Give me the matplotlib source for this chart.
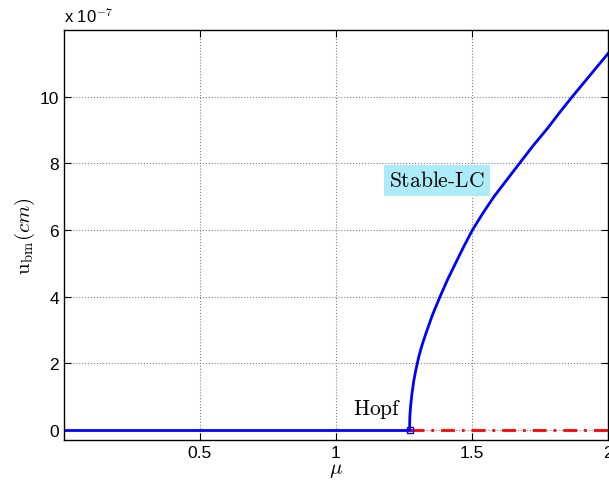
import matplotlib
matplotlib.use("Agg")
import matplotlib.pyplot as plt
import numpy as np

plt.rcParams['font.family'] = ['Liberation Sans', 'DejaVu Sans']
plt.rcParams['mathtext.fontset'] = 'cm'

# values in units of 1e-7 cm
mu_hopf = 1.271
mu_stable = [0.0, 1.271]
u_stable = [0.0, 0.0]
mu_unstable = [1.271, 2.0]
u_unstable = [0.0, 0.0]
mu_lc = [1.271, 1.272, 1.275, 1.280, 1.286, 1.294, 1.305, 1.317, 1.330, 1.355, 1.383, 1.41, 1.441,
         1.470, 1.502, 1.540, 1.582, 1.628, 1.675, 1.727, 1.779, 1.822, 1.869, 1.935, 2.0]
u_lc = [0.0, 0.4, 0.73, 1.1, 1.45, 1.8, 2.2, 2.55, 2.87, 3.45, 4.0, 4.5, 5.02,
        5.5, 6.0, 6.5, 7.01, 7.5, 8.0, 8.55, 9.06, 9.52, 10.0, 10.65, 11.29]

fig = plt.figure(figsize=(6.09, 4.85), dpi=100)
ax = fig.add_axes([0.105, 0.0907, 0.893, 0.845])

ax.plot(mu_stable, u_stable, color='blue', lw=2)
ax.plot(mu_lc, u_lc, color='blue', lw=2)
ax.plot(mu_unstable, u_unstable, color='red', lw=2, ls=(0, (5, 2.5, 1, 2.5)))
ax.plot([mu_hopf], [0], 's', ms=5, mfc='none', mec='blue', mew=1)

ax.text(1.153, 0.66, r'$\mathrm{Hopf}$', fontsize=15.5, ha='center', va='center')
ax.text(1.372, 7.5, r'$\mathrm{Stable\text{-}LC}$', fontsize=15.5, ha='center', va='center',
        bbox=dict(facecolor='#adebf8', edgecolor='none', pad=3.5))

ax.set_xlim(0.0, 2.0)
ax.set_ylim(-0.3, 12)
ax.set_xticks([0.5, 1, 1.5, 2])
ax.set_xticklabels(['0.5', '1', '1.5', '2'])
ax.set_yticks([0, 2, 4, 6, 8, 10])
ax.tick_params(direction='in', top=True, right=True, labelsize=12.5, length=5)
ax.grid(True, ls=':', color='gray', lw=0.8)
for s in ax.spines.values():
    s.set_linewidth(1.0)

ax.set_xlabel(r'$\mu$', fontsize=15, labelpad=0)
ax.set_ylabel(r'$\mathrm{u}_{\mathrm{bm}}(cm)$', fontsize=15, labelpad=2)
ax.text(0.0, 1.012, r'x 10$^{-7}$', transform=ax.transAxes, fontsize=12, ha='left', va='bottom')

fig.savefig('out.png', dpi=100)
